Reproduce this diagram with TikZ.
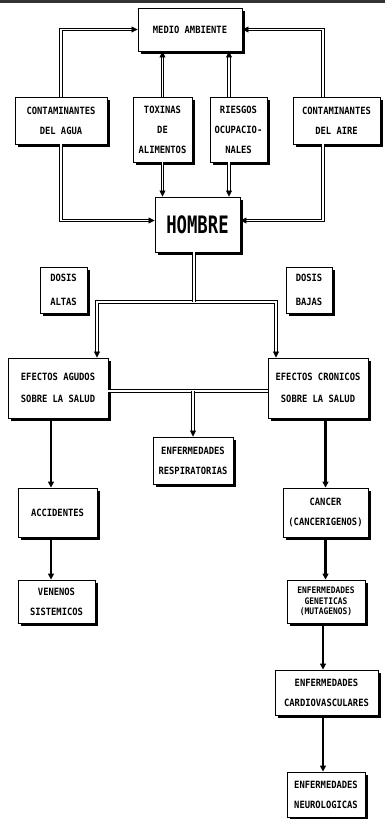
\documentclass[tikz,border=0pt]{standalone}
\usepackage{fontspec}
\newfontfamily\matriz[FakeStretch=0.88]{DejaVu Sans Mono}
\newfontfamily\matrizgrande[FakeStretch=0.72]{DejaVu Sans Mono}
\usetikzlibrary{
	arrows.meta,
	shadows
}

\begin{document}
\begin{tikzpicture}[
			x=1pt, y=1pt,
			font=\matriz\bfseries\fontsize{10}{20}\selectfont,
			caja/.style={draw, line width=0.9pt, fill=white, align=center, inner sep=1pt,
				drop shadow={shadow xshift=2.5pt, shadow yshift=-2.5pt, fill=black, opacity=1}},
			>={Triangle[length=6pt, width=6pt]},
			linea/.style={double, line width=0.8pt, double distance=1.6pt},
			fl/.style={->, linea},
			fg/.style={->, line width=2.4pt}
		]
		\useasboundingbox (0,0) rectangle (385,-819);
		\draw[line width=2.5pt, black!80] (0,-1.5) -- (385,-1.5);

		\node[caja, minimum width=104, minimum height=43] (medio) at (190,-29.5) {MEDIO AMBIENTE};
		\node[caja, minimum width=92, minimum height=47] (agua) at (61,-120.5) {CONTAMINANTES\\ DEL AGUA};
		\node[caja, minimum width=59, minimum height=65] (toxinas) at (162.5,-129.5) {TOXINAS\\ DE\\ ALIMENTOS};
		\node[caja, minimum width=57, minimum height=65] (riesgos) at (238.5,-129.5) {RIESGOS\\ OCUPACIO-\\ NALES};
		\node[caja, minimum width=87, minimum height=47] (aire) at (336.5,-120.5) {CONTAMINANTES\\ DEL AIRE};
		\node[caja, minimum width=85, minimum height=55, font=\matrizgrande\bfseries\fontsize{24}{26}\selectfont] (hombre) at (197.5,-224.5) {HOMBRE};
		\node[caja, minimum width=47, minimum height=46, font=\matriz\bfseries\fontsize{10}{24}\selectfont] (altas) at (63.5,-290) {DOSIS\\ ALTAS};
		\node[caja, minimum width=46, minimum height=46, font=\matriz\bfseries\fontsize{10}{24}\selectfont] (bajas) at (309,-290) {DOSIS\\ BAJAS};
		\node[caja, minimum width=100, minimum height=60, font=\matriz\bfseries\fontsize{10}{22}\selectfont] (agudos) at (58,-388) {EFECTOS AGUDOS\\ SOBRE LA SALUD};
		\node[caja, minimum width=100, minimum height=60, font=\matriz\bfseries\fontsize{10}{22}\selectfont] (cronicos) at (318,-388) {EFECTOS CRONICOS\\ SOBRE LA SALUD};
		\node[caja, minimum width=80, minimum height=47] (resp) at (193,-460.5) {ENFERMEDADES\\ RESPIRATORIAS};
		\node[caja, minimum width=79, minimum height=49] (accid) at (57.5,-512.5) {ACCIDENTES};
		\node[caja, minimum width=77, minimum height=43] (venenos) at (56.5,-601.5) {VENENOS\\ SISTEMICOS};
		\node[caja, minimum width=85, minimum height=49] (cancer) at (325.5,-512.5) {CANCER\\ (CANCERIGENOS)};
		\node[caja, minimum width=78, minimum height=43, font=\matriz\bfseries\fontsize{9}{10.5}\selectfont] (genet) at (326,-601.5) {ENFERMEDADES\\ GENETICAS\\ (MUTAGENOS)};
		\node[caja, minimum width=103, minimum height=45] (cardio) at (326.5,-692.5) {ENFERMEDADES\\ CARDIOVASCULARES};
		\node[caja, minimum width=78, minimum height=45] (neuro) at (326,-794.5) {ENFERMEDADES\\ NEUROLOGICAS};

		% hacia el medio ambiente
		\coordinate (airesup) at ([xshift=-13.5pt]aire.north);
		\coordinate (riesgosup) at ([xshift=-9.5pt]riesgos.north);
		\draw[fl] (agua.north) |- (medio.west);
		\draw[fl] (airesup) |- (medio.east);
		\draw[fl] (toxinas.north) -- (toxinas.north |- medio.south);
		\draw[fl] (riesgosup) -- (riesgosup |- medio.south);

		% hacia el hombre
		\coordinate (airesub) at ([xshift=-13.5pt]aire.south);
		\coordinate (riesgosub) at ([xshift=-9.5pt]riesgos.south);
		\draw[fl] (agua.south) |- ([yshift=4pt]hombre.west);
		\draw[fl] (airesub) |- ([yshift=4pt]hombre.east);
		\draw[fl] (toxinas.south) -- (toxinas.south |- hombre.north);
		\draw[fl] (riesgosub) -- (riesgosub |- hombre.north);

		% dosis altas y bajas
		\coordinate (hsal) at ([xshift=-3.5pt]hombre.south);
		\coordinate (rama) at (194,-302);
		\coordinate (izq) at ([xshift=39pt]agudos.north);
		\coordinate (der) at ([xshift=-42pt]cronicos.north);
		\draw[fl, <->] (izq) |- (rama) -| (der);
		\draw[linea] (hsal) -- (rama);

		% efectos
		\coordinate (entre) at ([yshift=-3pt]agudos.east);
		\draw[linea] (entre) -- (entre -| cronicos.west);
		\draw[fl] (entre -| resp.north) -- (resp.north);

		\coordinate (ag) at ([xshift=-7pt]agudos.south);
		\draw[fg] (ag) -- (ag |- accid.north);
		\draw[fg] (ag |- accid.south) -- (ag |- venenos.north);

		\draw[fg] (cancer.north |- cronicos.south) -- (cancer.north);
		\draw[fg] (cancer.south) -- (cancer.south |- genet.north);
		\draw[fg] ([xshift=-3pt]genet.south) -- ([xshift=-3pt]genet.south |- cardio.north);
		\draw[fg] ([xshift=-3pt]genet.south |- cardio.south) -- ([xshift=-3pt]genet.south |- neuro.north);
	\end{tikzpicture}
\end{document}
